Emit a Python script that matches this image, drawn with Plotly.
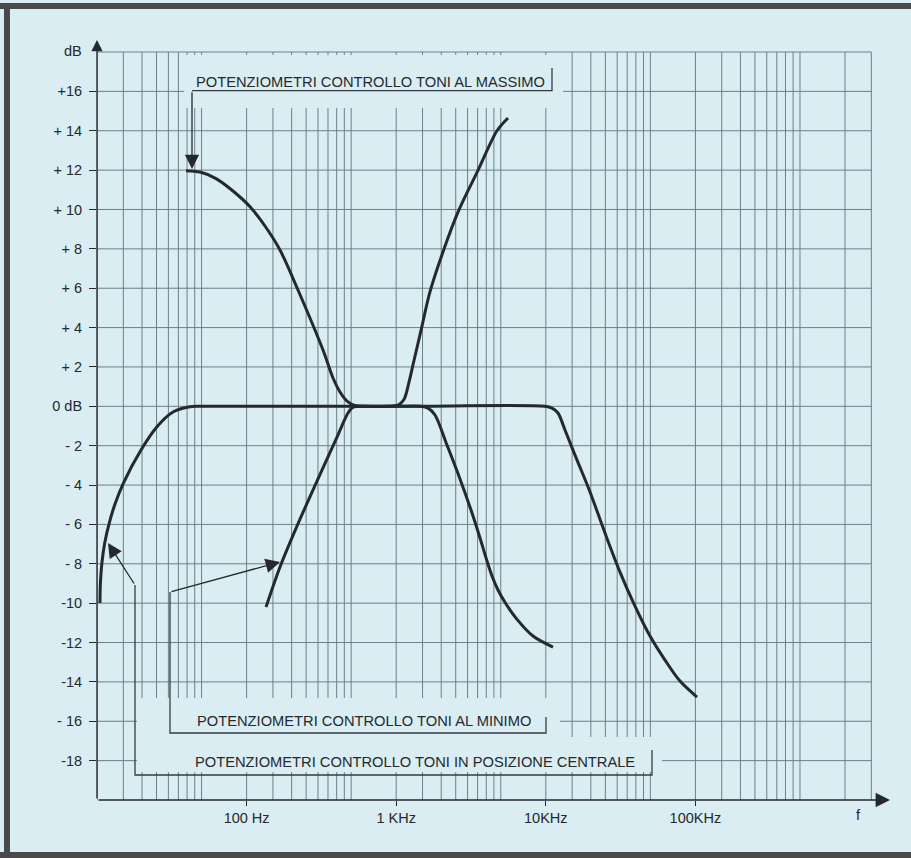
import plotly.graph_objects as go

# ---------------- data ----------------
# Tone controls at maximum (bass boost + treble boost)
FREQ_MAX = [39.35, 48.8, 62.45, 81.1, 105.4, 132.7, 167.2, 220.6, 324.1, 378.1, 421.1,
            469.0, 530.4, 618.6, 881.3, 1028.0, 1127.0, 1218.0, 1315.0, 1465.0, 1683.0,
            2087.0, 2630.0, 3523.0, 4718.0, 5588.0]
DB_MAX = [11.97, 11.90, 11.57, 10.94, 10.14, 9.16, 7.94, 5.91, 2.86, 1.44, 0.73,
          0.27, 0.04, 0.0, 0.0, 0.06, 0.345, 1.234, 2.327, 3.856, 5.822,
          7.99, 9.99, 11.99, 14.0, 14.65]

# Tone controls at minimum (bass cut + treble cut)
FREQ_MIN = [134.8, 167.2, 217.3, 295.5, 402.1, 476.3, 514.2, 555.5, 1000.0, 1465.0,
            1632.0, 1817.0, 2186.0, 2670.0, 3262.0, 3633.0, 4046.0, 4369.0, 4792.0,
            5420.0, 6322.0, 8211.0, 11170.0]
DB_MIN = [-10.20, -8.16, -6.08, -3.80, -1.56, -0.34, -0.04, 0.0, 0.0, 0.0,
          -0.09, -0.44, -1.97, -3.69, -5.57, -6.69, -7.86, -8.62, -9.33,
          -10.04, -10.76, -11.67, -12.23]

# Tone controls in central position
FREQ_MID = [10.47, 10.537, 10.783, 11.258, 12.22, 13.27, 14.99, 19.69, 25.10, 32.21, 41.84,
            48.8, 1000.0, 9879.0, 11000.0, 12064.0, 13437.0, 15677.0, 19750.0, 24871.0,
            31333.0, 39470.0, 49720.0, 62630.0, 78900.0, 102500.0]
DB_MID = [-9.99, -8.98, -7.96, -6.945, -5.78, -4.91, -3.91, -2.22, -1.05, -0.29, -0.02,
          0.0, 0.0, 0.0, -0.09, -0.34, -1.20, -2.48, -4.35, -6.44,
          -8.42, -10.15, -11.67, -12.89, -13.96, -14.77]

Y_TICKS = [-18, -16, -14, -12, -10, -8, -6, -4, -2, 0, 2, 4, 6, 8, 10, 12, 14, 16]
Y_LABELS = ["-18", "- 16", "-14", "-12", "-10", "- 8", "- 6", "- 4", "- 2", "0 dB",
            "+ 2", "+ 4", "+ 6", "+ 8", "+ 10", "+ 12", "+ 14", "+16"]
X_TICKS = [100, 1000, 10000, 100000]
X_LABELS = ["100 Hz", "1 KHz", "10KHz", "100KHz"]

GRID_MULT = [1, 1.5, 2, 2.5, 3, 3.5, 4, 4.5, 5]
DECADES = [10, 100, 1000, 10000, 100000, 1000000]
F_LO, F_HI = 10, 1.5e6
DB_LO, DB_HI = -20, 18

LABEL_MAX = "POTENZIOMETRI CONTROLLO TONI AL MASSIMO"
LABEL_MIN = "POTENZIOMETRI CONTROLLO TONI AL MINIMO"
LABEL_MID = "POTENZIOMETRI CONTROLLO TONI IN POSIZIONE CENTRALE"

# ---------------- styling / layout geometry ----------------
W, H = 911, 858
ML, MR, MT, MB = 97, 21, 40, 58
DEC_PX = 149.6            # pixels per decade
DB_PX = 19.684            # pixels per dB
PW, PH = W - ML - MR, H - MT - MB
X_RANGE = [1.0, 1.0 + PW / DEC_PX]
Y_RANGE = [DB_LO, DB_LO + PH / DB_PX]

BG = "#d9edf2"
GRID = "#6b808a"
INK = "#25292e"
FONT = "Liberation Sans"


def lx(px):       # pixel -> log10(f)
    return X_RANGE[0] + (px - ML) / DEC_PX


def fx(px):       # pixel -> f
    return 10 ** lx(px)


def dy(py):       # pixel -> dB
    return DB_LO + (H - MB - py) / DB_PX


def xp(px):
    return (px - ML) / PW


def yp(py):
    return (H - MB - py) / PH


fig = go.Figure()

# grid
gx, gy = [], []
for d in DECADES:
    for m in GRID_MULT:
        f = m * d
        if f <= F_HI * 1.0001:
            gx += [f, f, None]
            gy += [DB_LO, DB_HI, None]
hx, hy = [], []
for v in range(DB_LO + 2, DB_HI + 1, 2):
    hx += [F_LO, F_HI, None]
    hy += [v, v, None]
fig.add_trace(go.Scatter(x=gx, y=gy, mode="lines", line=dict(color=GRID, width=1),
                         hoverinfo="skip", showlegend=False))
fig.add_trace(go.Scatter(x=hx, y=hy, mode="lines", line=dict(color=GRID, width=1),
                         hoverinfo="skip", showlegend=False))

# masks behind the label boxes
for (x0, x1, y0, y1) in [(184, 563, 55, 108), (137, 560, 698, 772), (560, 662, 737, 772)]:
    fig.add_trace(go.Scatter(
        x=[fx(x0), fx(x1), fx(x1), fx(x0), fx(x0)],
        y=[dy(y0), dy(y0), dy(y1), dy(y1), dy(y0)],
        mode="lines", fill="toself", fillcolor=BG, line=dict(width=0, color=BG),
        hoverinfo="skip", showlegend=False))

# label box lines
for pts in [[(552, 68), (552, 90.7), (192, 90.7)],
            [(170, 592), (170, 733), (546, 733), (546, 717)],
            [(135, 585), (135, 775), (652, 775), (652, 750)]]:
    fig.add_trace(go.Scatter(x=[fx(p[0]) for p in pts], y=[dy(p[1]) for p in pts],
                             mode="lines", line=dict(color="#353b42", width=1.3),
                             hoverinfo="skip", showlegend=False))

# curves
for fr, db in [(FREQ_MAX, DB_MAX), (FREQ_MIN, DB_MIN), (FREQ_MID, DB_MID)]:
    fig.add_trace(go.Scatter(x=fr, y=db, mode="lines",
                             line=dict(color=INK, width=3, shape="spline", smoothing=0.9),
                             hoverinfo="skip", showlegend=False))


def arrow(t, h, width=1.2, size=2.2, head=2):
    fig.add_annotation(x=lx(h[0]), y=dy(h[1]), ax=lx(t[0]), ay=dy(t[1]),
                       xref="x", yref="y", axref="x", ayref="y", text="",
                       showarrow=True, arrowhead=head, arrowsize=size,
                       arrowwidth=width, arrowcolor=INK, standoff=0)


# axes with arrows
arrow((ML, H - MB), (ML, MT), width=1.4, size=1.6)
arrow((ML, H - MB), (W - MR, H - MB), width=1.6, size=1.8)
# label pointers
arrow((192, 90.7), (192, 169), width=1.3, size=2.2)
arrow((170, 592), (280, 562), width=1.3, size=2.2)
arrow((135, 585), (108, 543), width=1.3, size=2.2)

# label texts
for txt, cx, cy in [(LABEL_MAX, 370.5, 81.7), (LABEL_MIN, 363.5, 720.5), (LABEL_MID, 415, 761.5)]:
    fig.add_annotation(x=lx(cx), y=dy(cy), xref="x", yref="y", text=txt, showarrow=False,
                       font=dict(family=FONT, size=14.7, color=INK),
                       xanchor="center", yanchor="middle")

fig.add_annotation(x=xp(73), y=yp(51), xref="paper", yref="paper", text="dB",
                   showarrow=False, font=dict(family=FONT, size=14.5, color=INK),
                   xanchor="center", yanchor="middle")
fig.add_annotation(x=xp(858), y=yp(815), xref="paper", yref="paper", text="f",
                   showarrow=False, font=dict(family=FONT, size=14.5, color=INK),
                   xanchor="center", yanchor="middle")

# frame
FRAME = "#4a4a4a"
for (x0, x1, y0, y1) in [(0, W, 3, 9), (4, 10, 3, H), (0, W, 852, H)]:
    fig.add_shape(type="rect", xref="paper", yref="paper",
                  x0=xp(x0), x1=xp(x1), y0=yp(y1), y1=yp(y0),
                  fillcolor=FRAME, line=dict(width=0), layer="above")

fig.update_layout(
    width=W, height=H, autosize=False,
    margin=dict(l=ML, r=MR, t=MT, b=MB, pad=0),
    paper_bgcolor=BG, plot_bgcolor=BG,
    showlegend=False,
    xaxis=dict(type="log", range=X_RANGE, showgrid=False, zeroline=False, showline=False,
               tickvals=X_TICKS, ticktext=X_LABELS, ticks="outside", ticklen=5,
               tickcolor=INK, tickwidth=1,
               tickfont=dict(family=FONT, size=14.5, color=INK)),
    yaxis=dict(range=Y_RANGE, showgrid=False, zeroline=False, showline=False,
               tickvals=Y_TICKS, ticktext=Y_LABELS, ticks="outside", ticklen=7,
               tickcolor=INK, tickwidth=1, ticklabelstandoff=4,
               tickfont=dict(family=FONT, size=14.5, color=INK)),
)

fig.write_html("out.html", config={"displayModeBar": False},
               post_script="document.body.style.margin='0px';document.body.style.background='" + BG + "';")
